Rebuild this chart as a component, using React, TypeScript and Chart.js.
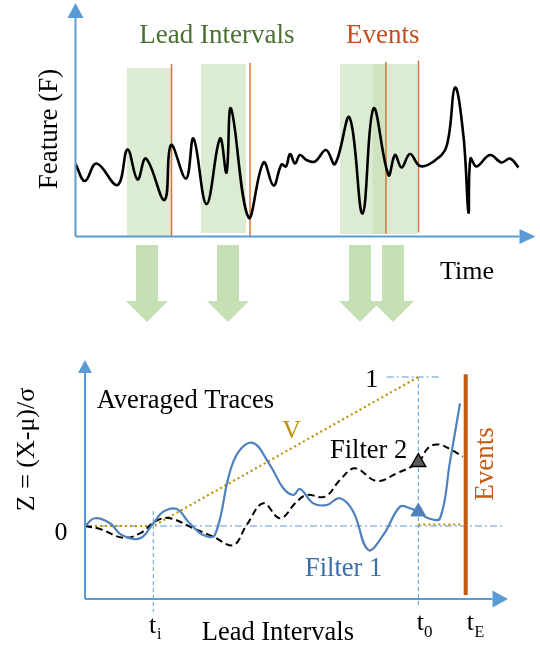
import React, { useEffect, useRef } from "react";
import { Chart, registerables } from "chart.js";

Chart.register(...registerables);

const FONT = '"Liberation Serif", "Times New Roman", serif';
const AXIS_BLUE = "#5b9bd5";
const GREEN_TEXT = "#4b7132";
const ORANGE = "#c55a11";
const ORANGE_THIN = "#d9733a";
const LEAD_FILL = "rgba(197,224,180,0.6)";
const ARROW_FILL = "#c5e0b4";
const F1_BLUE = "#4f81bd";
const F1_TEXT = "#3b6ea8";
const GOLD = "#bf9000";

// ---------- Top panel: raw feature trace ----------
const traceTime = [0, 9.5, 21, 42, 52, 62, 70.5, 89, 95.5, 110.5, 118, 131, 144.5, 151, 155.5, 173, 188, 198, 206, 210.5, 214.5, 219.5, 224.5, 231, 239.5, 250.5, 259.5, 274, 287, 298, 313, 319.5, 326, 334.5, 344.5, 358, 371, 379.5, 388, 393, 395, 401, 414.5, 426, 434.5, 443];
const traceFeature = [72.5, 55.5, 73, 51.5, 87, 57, 78, 36.5, 91.5, 58, 98, 32.5, 98, 64, 128, 19, 74, 51, 72, 70, 82.5, 73, 81.5, 76.5, 75, 86.5, 72.5, 119, 23, 128, 61.5, 81.5, 69, 82.5, 70.5, 75, 90, 149, 100, 24, 78, 70, 81.5, 74, 78, 69];

const leadStart = [51.5, 125.5, 264.5, 297];
const leadEnd = [95.5, 170.5, 310.5, 342];
const leadTop = [168.5, 172.5, 172.5, 172.5];
const leadBottom = [0, 3.5, 2.5, 2.5];

const eventTimes = [96, 174.5, 310.5, 343];
const eventTop = [172.5, 173.5, 174.5, 176];
const eventBottom = [0, 0, 2.5, 4];

const arrowTimes = [71.5, 152.5, 284.5, 317.5];

// ---------- Bottom panel: averaged traces ----------
const f1Time = [0, 10, 25, 36.7, 55, 68.3, 78.3, 91.7, 103.3, 118.3, 130, 148.3, 166.7, 185, 198.3, 208.3, 215, 228.3, 241.7, 255, 268.3, 283.3, 298.3, 315, 325, 333.3, 343.3, 355, 365, 375];
const f1Z = [0, 0.052, 0.018, -0.06, -0.083, 0.018, 0.096, 0.114, 0.029, -0.06, -0.06, 0.432, 0.559, 0.409, 0.253, 0.208, 0.248, 0.152, 0.141, 0.186, 0.096, -0.161, -0.06, 0.13, 0.119, 0.096, 0.052, 0.052, 0.432, 0.823];

const f2Time = [0, 15, 38.3, 55, 71.7, 85, 108.3, 128.3, 148.3, 161.7, 178.3, 195, 211.7, 221.7, 240, 255, 270, 291.7, 311.7, 333.3, 343.3, 353.3, 366.7, 377.7];
const f2Z = [0, -0.02, -0.079, -0.049, 0.036, 0.052, -0.015, -0.072, -0.128, 0.007, 0.152, 0.052, 0.163, 0.208, 0.197, 0.309, 0.387, 0.302, 0.354, 0.428, 0.525, 0.547, 0.51, 0.465];

const vTime = [0, 68.3, 333.3];
const vZ = [0, 0, 1];
const vAfterTime = [333.3, 378];
const vAfterZ = [0.01, 0.01];

const tI = 68.3;
const t0 = 333.3;
const tE = 380.7;

const pts = (xs: number[], ys: number[]) => xs.map((x, i) => ({ x, y: ys[i] }));

type TextItem = {
  text: string;
  x: number;
  y: number;
  size: number;
  color: string;
  align?: CanvasTextAlign;
  baseline?: CanvasTextBaseline;
  rotate?: boolean;
};

function drawTexts(ctx: CanvasRenderingContext2D, items: TextItem[], offY: number) {
  for (const it of items) {
    ctx.save();
    ctx.font = `${it.size}px ${FONT}`;
    ctx.fillStyle = it.color;
    ctx.textAlign = it.align || "left";
    ctx.textBaseline = it.baseline || "alphabetic";
    if (it.rotate) {
      ctx.translate(it.x, it.y - offY);
      ctx.rotate(-Math.PI / 2);
      ctx.fillText(it.text, 0, 0);
    } else {
      ctx.fillText(it.text, it.x, it.y - offY);
    }
    ctx.restore();
  }
}

function drawAxes(
  ctx: CanvasRenderingContext2D,
  area: { left: number; right: number; top: number; bottom: number },
  yHead: [number, number],
  xHead: [number, number]
) {
  ctx.save();
  ctx.strokeStyle = AXIS_BLUE;
  ctx.fillStyle = AXIS_BLUE;
  ctx.lineWidth = 2;
  ctx.beginPath();
  ctx.moveTo(area.left, area.bottom);
  ctx.lineTo(area.left, area.top + yHead[0]);
  ctx.stroke();
  ctx.beginPath();
  ctx.moveTo(area.left, area.top);
  ctx.lineTo(area.left - yHead[1], area.top + yHead[0]);
  ctx.lineTo(area.left + yHead[1], area.top + yHead[0]);
  ctx.closePath();
  ctx.fill();
  ctx.beginPath();
  ctx.moveTo(area.left, area.bottom);
  ctx.lineTo(area.right - xHead[0], area.bottom);
  ctx.stroke();
  ctx.beginPath();
  ctx.moveTo(area.right, area.bottom);
  ctx.lineTo(area.right - xHead[0], area.bottom - xHead[1]);
  ctx.lineTo(area.right - xHead[0], area.bottom + xHead[1]);
  ctx.closePath();
  ctx.fill();
  ctx.restore();
}

const baseOptions = (padding: any, xr: [number, number], yr: [number, number]) => ({
  animation: false as const,
  responsive: false,
  maintainAspectRatio: false,
  events: [],
  layout: { padding },
  plugins: { legend: { display: false }, tooltip: { enabled: false }, title: { display: false } },
  scales: {
    x: { type: "linear" as const, display: false, min: xr[0], max: xr[1] },
    y: { type: "linear" as const, display: false, min: yr[0], max: yr[1] },
  },
  elements: { point: { radius: 0 }, line: { tension: 0 } },
});

const TOP_H = 340;
const BOT_H = 305;

export default function App() {
  const topRef = useRef<HTMLCanvasElement>(null);
  const botRef = useRef<HTMLCanvasElement>(null);

  useEffect(() => {
    if (!topRef.current || !botRef.current) return;

    const topTexts: TextItem[] = [
      { text: "Lead Intervals", x: 139.3, y: 42.7, size: 27, color: GREEN_TEXT },
      { text: "Events", x: 346, y: 42.7, size: 27, color: "#c0501f" },
      { text: "Feature (F)", x: 50, y: 129, size: 27, color: "#000", align: "center", baseline: "middle", rotate: true },
      { text: "Time", x: 440, y: 279, size: 26, color: "#000" },
    ];

    const topPlugin = {
      id: "topDecor",
      afterDraw(chart: any) {
        const ctx = chart.ctx as CanvasRenderingContext2D;
        const xs = chart.scales.x;
        drawAxes(ctx, chart.chartArea, [15, 8], [16, 7.5]);
        ctx.save();
        ctx.fillStyle = ARROW_FILL;
        for (const t of arrowTimes) {
          const cx = xs.getPixelForValue(t);
          ctx.beginPath();
          ctx.moveTo(cx - 11, 245);
          ctx.lineTo(cx + 11, 245);
          ctx.lineTo(cx + 11, 301);
          ctx.lineTo(cx + 21, 301);
          ctx.lineTo(cx, 322);
          ctx.lineTo(cx - 21, 301);
          ctx.lineTo(cx - 11, 301);
          ctx.closePath();
          ctx.fill();
        }
        ctx.restore();
        drawTexts(ctx, topTexts, 0);
      },
    };

    const topDatasets: any[] = [
      {
        data: pts(traceTime, traceFeature),
        borderColor: "#000",
        borderWidth: 2.6,
        tension: 0.4,
        fill: false,
        pointRadius: 0,
      },
    ];
    eventTimes.forEach((t, i) => {
      topDatasets.push({
        data: [
          { x: t, y: eventBottom[i] },
          { x: t, y: eventTop[i] },
        ],
        borderColor: ORANGE_THIN,
        borderWidth: 1.5,
        fill: false,
        pointRadius: 0,
        clip: false,
      });
    });
    leadStart.forEach((s, i) => {
      topDatasets.push({
        data: [
          { x: s, y: leadBottom[i] },
          { x: s, y: leadTop[i] },
          { x: leadEnd[i], y: leadTop[i] },
          { x: leadEnd[i], y: leadBottom[i] },
        ],
        borderWidth: 0,
        borderColor: "rgba(0,0,0,0)",
        backgroundColor: LEAD_FILL,
        fill: { value: leadBottom[i] },
        pointRadius: 0,
        clip: false,
      });
    });

    const topChart = new Chart(topRef.current, {
      type: "line",
      data: { datasets: topDatasets },
      options: baseOptions({ left: 75.5, right: 4.5, top: 3, bottom: TOP_H - 236.5 }, [0, 460], [0, 233.5]) as any,
      plugins: [topPlugin],
    });

    const OFF = 340;
    const botTexts: TextItem[] = [
      { text: "Averaged Traces", x: 96.7, y: 407.7, size: 26.5, color: "#000" },
      { text: "1", x: 371.7, y: 386.7, size: 26, color: "#000", align: "center" },
      { text: "V", x: 291.7, y: 438.3, size: 26, color: GOLD, align: "center" },
      { text: "Filter 2", x: 330, y: 458.3, size: 26.5, color: "#000" },
      { text: "Filter 1", x: 305, y: 575.7, size: 26.5, color: F1_TEXT },
      { text: "0", x: 61, y: 540, size: 26, color: "#000", align: "center" },
      { text: "Z = (X-\u03bc)/\u03c3", x: 27, y: 449.5, size: 26, color: "#000", align: "center", baseline: "middle", rotate: true },
      { text: "Events", x: 486, y: 464, size: 27, color: ORANGE, align: "center", baseline: "middle", rotate: true },
      { text: "Lead Intervals", x: 201.7, y: 640, size: 26.5, color: "#000" },
      { text: "t", x: 149, y: 632.5, size: 26, color: "#000" },
      { text: "i", x: 157, y: 638.5, size: 16, color: "#000" },
      { text: "t", x: 416.7, y: 630, size: 26, color: "#000" },
      { text: "0", x: 424, y: 636.5, size: 17, color: "#000" },
      { text: "t", x: 466.7, y: 630, size: 26, color: "#000" },
      { text: "E", x: 474.5, y: 636.5, size: 16, color: "#000" },
    ];

    const botPlugin = {
      id: "botDecor",
      afterDraw(chart: any) {
        const ctx = chart.ctx as CanvasRenderingContext2D;
        drawAxes(ctx, chart.chartArea, [13, 7], [15.5, 8.5]);
        drawTexts(ctx, botTexts, OFF);
      },
    };

    const botDatasets: any[] = [
      {
        data: [{ x: t0, y: f2Z[f2Time.indexOf(t0)] }],
        showLine: false,
        pointStyle: "triangle",
        pointRadius: 8.5,
        pointBackgroundColor: "#595959",
        pointBorderColor: "#000",
        pointBorderWidth: 1.5,
        clip: false,
      },
      {
        data: [{ x: t0, y: f1Z[f1Time.indexOf(t0)] }],
        showLine: false,
        pointStyle: "triangle",
        pointRadius: 8.5,
        pointBackgroundColor: F1_BLUE,
        pointBorderColor: F1_BLUE,
        pointBorderWidth: 1,
        clip: false,
      },
      {
        data: pts(f1Time, f1Z),
        borderColor: F1_BLUE,
        borderWidth: 2.2,
        tension: 0.4,
        pointRadius: 0,
        fill: false,
      },
      {
        data: pts(f2Time, f2Z),
        borderColor: "#000",
        borderWidth: 2,
        borderDash: [7, 4],
        tension: 0.4,
        pointRadius: 0,
        fill: false,
      },
      {
        data: pts(vTime, vZ),
        borderColor: GOLD,
        borderWidth: 2.2,
        borderDash: [2, 3],
        pointRadius: 0,
        fill: false,
        clip: false,
      },
      {
        data: pts(vAfterTime, vAfterZ),
        borderColor: GOLD,
        borderWidth: 2.2,
        borderDash: [2, 3],
        pointRadius: 0,
        fill: false,
      },
      {
        data: [
          { x: tE, y: -0.463 },
          { x: tE, y: 1.018 },
        ],
        borderColor: ORANGE,
        borderWidth: 4,
        pointRadius: 0,
        fill: false,
        clip: false,
      },
      {
        data: [
          { x: 0, y: 0 },
          { x: 418, y: 0 },
        ],
        borderColor: AXIS_BLUE,
        borderWidth: 1,
        borderDash: [7, 3, 2, 3],
        pointRadius: 0,
        fill: false,
        clip: false,
      },
      {
        data: [
          { x: 301.7, y: 1 },
          { x: 355, y: 1 },
        ],
        borderColor: AXIS_BLUE,
        borderWidth: 1,
        borderDash: [7, 3, 2, 3],
        pointRadius: 0,
        fill: false,
        clip: false,
      },
      {
        data: [
          { x: tI, y: 0.1 },
          { x: tI, y: -0.577 },
        ],
        borderColor: AXIS_BLUE,
        borderWidth: 1,
        borderDash: [4, 3],
        pointRadius: 0,
        fill: false,
        clip: false,
      },
      {
        data: [
          { x: t0, y: 1 },
          { x: t0, y: -0.55 },
        ],
        borderColor: AXIS_BLUE,
        borderWidth: 1,
        borderDash: [4, 3],
        pointRadius: 0,
        fill: false,
        clip: false,
      },
    ];

    const botChart = new Chart(botRef.current, {
      type: "line",
      data: { datasets: botDatasets },
      options: baseOptions({ left: 85, right: 32, top: 20, bottom: BOT_H - 259 }, [0, 423], [-0.49, 1.114]) as any,
      plugins: [botPlugin],
    });

    return () => {
      topChart.destroy();
      botChart.destroy();
    };
  }, []);

  return (
    <div style={{ position: "absolute", left: 0, top: 0, width: 540, height: 645, background: "#fff" }}>
      <canvas ref={topRef} width={540} height={TOP_H} style={{ position: "absolute", left: 0, top: 0 }} />
      <canvas ref={botRef} width={540} height={BOT_H} style={{ position: "absolute", left: 0, top: TOP_H }} />
    </div>
  );
}
